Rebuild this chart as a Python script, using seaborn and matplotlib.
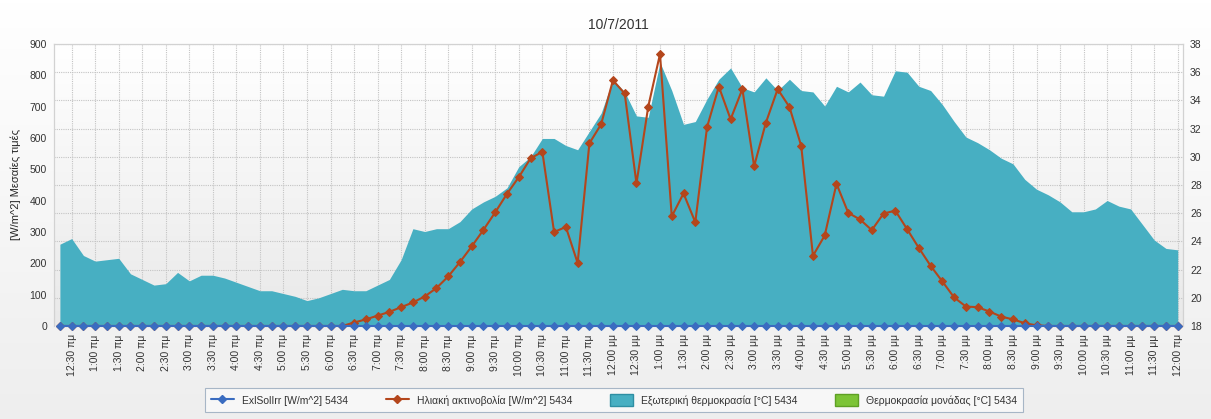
import numpy as np
import pandas as pd
import matplotlib
matplotlib.use("Agg")
import matplotlib.pyplot as plt
import seaborn as sns
from matplotlib.lines import Line2D
from matplotlib.patches import Patch
from matplotlib.colors import LinearSegmentedColormap

# --- data (15 min steps, 00:15 -> 24:00) ---
title = "10/7/2011"
ylabel_left = "[W/m^2] Μεσαίες τιμές"

exl_sol_irr = [0, 0, 0, 0, 0, 0, 0, 0, 0, 0, 0, 0, 0, 0, 0, 0,
               0, 0, 0, 0, 0, 0, 0, 0, 0, 0, 0, 0, 0, 0, 0, 0,
               0, 0, 0, 0, 0, 0, 0, 0, 0, 0, 0, 0, 0, 0, 0, 0,
               0, 0, 0, 0, 0, 0, 0, 0, 0, 0, 0, 0, 0, 0, 0, 0,
               0, 0, 0, 0, 0, 0, 0, 0, 0, 0, 0, 0, 0, 0, 0, 0,
               0, 0, 0, 0, 0, 0, 0, 0, 0, 0, 0, 0, 0, 0, 0, 0]

solar = [0, 0, 0, 0, 0, 0, 0, 0, 0, 0, 0, 0,
         0, 0, 0, 0, 0, 0, 0, 0, 0, 0, 0, 0,
         0, 11, 21, 33, 45, 60, 75, 94, 121, 158, 204, 254,
         307, 363, 422, 475, 535, 556, 300, 316, 201, 583, 644, 784,
         742, 455, 700, 868, 350, 423, 331, 635, 764, 660, 756, 510,
         649, 756, 699, 575, 224, 289, 454, 361, 340, 306, 359, 368,
         309, 249, 192, 142, 91, 62, 60, 46, 30, 21, 9, 2,
         0, 0, 0, 0, 0, 0, 0, 0, 0, 0, 0, 0]

temp_out = [23.8, 24.2, 23.0, 22.6, 22.7, 22.8, 21.7, 21.3, 20.9, 21.0,
            21.8, 21.2, 21.6, 21.6, 21.4, 21.1, 20.8, 20.5, 20.5, 20.3,
            20.1, 19.8, 20.0, 20.3, 20.6, 20.5, 20.5, 20.9, 21.3, 22.7,
            24.9, 24.7, 24.9, 24.9, 25.4, 26.3, 26.8, 27.2, 27.8, 29.3,
            30.0, 31.3, 31.3, 30.8, 30.5, 31.8, 33.1, 35.5, 34.6, 32.9,
            32.8, 36.7, 34.7, 32.3, 32.5, 34.1, 35.5, 36.3, 34.9, 34.6,
            35.6, 34.7, 35.5, 34.7, 34.6, 33.6, 35.0, 34.6, 35.3, 34.4,
            34.3, 36.1, 36.0, 35.0, 34.7, 33.7, 32.5, 31.4, 31.0, 30.5,
            29.9, 29.5, 28.4, 27.7, 27.3, 26.8, 26.1, 26.1, 26.3, 26.9,
            26.5, 26.3, 25.2, 24.1, 23.5, 23.4]

tick_labels = ["12:30 πμ", "1:00 πμ", "1:30 πμ", "2:00 πμ", "2:30 πμ", "3:00 πμ",
               "3:30 πμ", "4:00 πμ", "4:30 πμ", "5:00 πμ", "5:30 πμ", "6:00 πμ",
               "6:30 πμ", "7:00 πμ", "7:30 πμ", "8:00 πμ", "8:30 πμ", "9:00 πμ",
               "9:30 πμ", "10:00 πμ", "10:30 πμ", "11:00 πμ", "11:30 πμ", "12:00 μμ",
               "12:30 μμ", "1:00 μμ", "1:30 μμ", "2:00 μμ", "2:30 μμ", "3:00 μμ",
               "3:30 μμ", "4:00 μμ", "4:30 μμ", "5:00 μμ", "5:30 μμ", "6:00 μμ",
               "6:30 μμ", "7:00 μμ", "7:30 μμ", "8:00 μμ", "8:30 μμ", "9:00 μμ",
               "9:30 μμ", "10:00 μμ", "10:30 μμ", "11:00 μμ", "11:30 μμ", "12:00 πμ"]

legend_labels = ["ExlSolIrr [W/m^2] 5434",
                 "Ηλιακή ακτινοβολία [W/m^2] 5434",
                 "Εξωτερική θερμοκρασία [°C] 5434",
                 "Θερμοκρασία μονάδας [°C] 5434"]

c_blue = "#3A6CC0"
c_orange = "#B4461C"
c_teal = "#47AFC2"
c_green = "#7CC436"

sns.set_style("white")
plt.rcParams['font.family'] = ['Liberation Sans', 'DejaVu Sans']
plt.rcParams['text.color'] = '#333333'
plt.rcParams['xtick.color'] = '#333333'
plt.rcParams['ytick.color'] = '#333333'

df = pd.DataFrame({"step": np.arange(len(temp_out)),
                   "exl": exl_sol_irr, "solar": solar, "temp": temp_out})

fig = plt.figure(figsize=(12.11, 4.19), dpi=100)

# soft grey background like the original control
bg = fig.add_axes([0, 0, 1, 1], zorder=-10)
bg.imshow(np.linspace(0, 1, 100).reshape(-1, 1), aspect='auto',
          cmap=LinearSegmentedColormap.from_list("bg", ["#FFFFFF", "#EEEEEE"]),
          extent=(0, 1, 0, 1))
bg.axis('off')

# primary axes = temperature (right scale), twin = W/m^2 (left scale)
ax = fig.add_axes([0.0446, 0.222, 0.9323, 0.673])
ax.imshow(np.linspace(0, 1, 100).reshape(-1, 1), aspect='auto',
          cmap=LinearSegmentedColormap.from_list("pa", ["#FFFFFF", "#E9E9E9"]),
          extent=(0, 1, 0, 1), transform=ax.transAxes, zorder=0)
ax.fill_between(df["step"], 18, df["temp"], color=c_teal, lw=0, zorder=1)
ax.set_axisbelow(True)
ax.grid(True, axis='both', color='#C4C4C4', linestyle=(0, (1, 1)), linewidth=0.8)

ax2 = ax.twinx()
sns.lineplot(data=df, x="step", y="solar", ax=ax2, color=c_orange, linewidth=1.5,
             marker='D', markersize=4, markeredgecolor=c_orange, clip_on=False)
sns.lineplot(data=df, x="step", y="exl", ax=ax2, color=c_blue, linewidth=1.5,
             marker='D', markersize=4.5, markeredgecolor=c_blue, clip_on=False,
             zorder=4)

# swap sides: temperature on the right, W/m^2 on the left
ax.yaxis.tick_right()
ax.set_ylim(18, 38)
ax.set_yticks(range(18, 39, 2))
ax2.yaxis.tick_left()
ax2.yaxis.set_label_position('left')
ax2.set_ylim(0, 900)
ax2.set_yticks(range(0, 901, 100))
ax2.set_ylabel(ylabel_left, fontsize=8, labelpad=6)
ax2.set_xlabel("")

ax.set_xlim(-0.5, 95.45)
ax.set_xticks(df["step"][1::2])
ax.set_xticklabels(tick_labels, rotation=90, fontsize=7.5)
ax.set_xlabel("")
ax.set_title(title, fontsize=10, pad=11)

for a in (ax, ax2):
    a.tick_params(axis='y', length=0, labelsize=7.5, pad=5)
    for s in a.spines.values():
        s.set_color('#D2D2D2')
        s.set_linewidth(0.8)
        s.set_zorder(0.8)
    a.spines['bottom'].set_visible(False)
ax.tick_params(axis='x', length=3, color='#BBBBBB', pad=3)

handles = [Line2D([], [], color=c_blue, marker='D', markersize=4, lw=1.5),
           Line2D([], [], color=c_orange, marker='D', markersize=4, lw=1.5),
           Patch(facecolor=c_teal, edgecolor='#2E8FA3'),
           Patch(facecolor=c_green, edgecolor='#5EA024')]
leg = fig.legend(handles, legend_labels, loc='center', bbox_to_anchor=(0.507, 0.045),
                 ncol=4, fontsize=7.5, frameon=True, fancybox=False,
                 edgecolor='#A7B6C6', facecolor='#F7F7F7', framealpha=1,
                 columnspacing=3.6, handlelength=2.2, handleheight=1.4,
                 borderpad=0.6)
leg.get_frame().set_linewidth(0.8)

fig.savefig("out.png", dpi=100)
